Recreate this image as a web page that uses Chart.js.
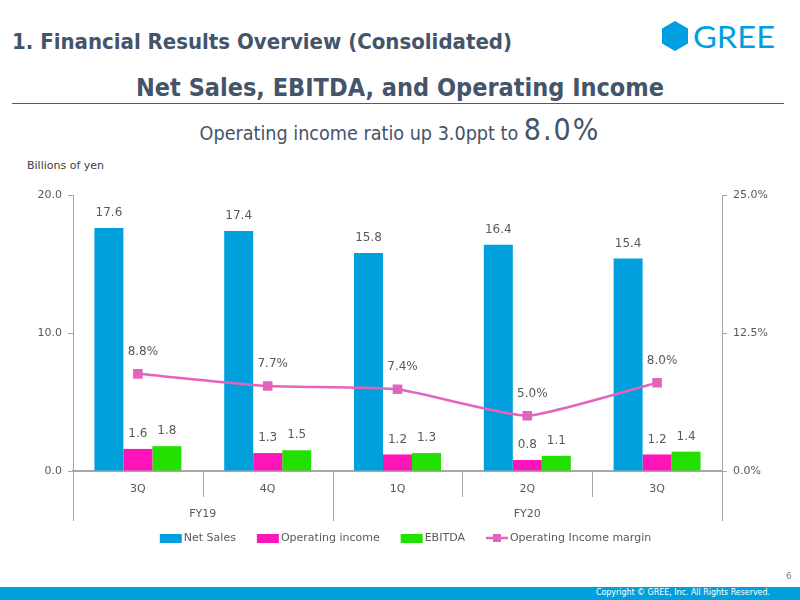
<!DOCTYPE html>
<html>
<head>
<meta charset="utf-8">
<script src="https://cdn.jsdelivr.net/npm/chart.js@4.4.1/dist/chart.umd.min.js"></script>
<style>
  body { margin: 0; width: 800px; height: 600px; position: relative; overflow: hidden; background: #fff; }
  #chart { position: absolute; left: 0; top: 0; }
  .txt { position: absolute; white-space: nowrap; color: #44546a; }
  #title { left: 12px; top: 29px; font: bold 22px "DejaVu Sans Condensed", "DejaVu Sans"; }
  #subtitle { left: 0; width: 800px; text-align: center; top: 73px; font: bold 25px "DejaVu Sans Condensed", "DejaVu Sans"; }
  #rule { position: absolute; left: 12px; width: 772px; top: 103px; height: 0; border-top: 1px solid #595959; }
  #ratio { left: 0; width: 800px; text-align: center; top: 112px; font: 19.6px "DejaVu Sans Condensed", "DejaVu Sans"; }
  #ratio span { font-size: 30px; letter-spacing: 2px; }
  #unit { left: 27px; top: 159px; font: 11px "DejaVu Sans"; color: #404040; }
  #footer { position: absolute; left: 0; top: 587px; width: 800px; height: 13px; background: #00a0dc; }
  #footer div { position: absolute; right: 30px; top: 0px; font: 8.8px "DejaVu Sans Condensed", "DejaVu Sans"; color: #fff; }
  #page { left: 786px; top: 571px; font: 9px "DejaVu Sans"; color: #7f7f7f; }
  #logo { position: absolute; left: 660px; top: 18px; }
</style>
</head>
<body>
<div class="txt" id="title">1. Financial Results Overview (Consolidated)</div>
<svg id="logo" width="120" height="36">
  <polygon points="15,3 28,10.5 28,25.5 15,33 2,25.5 2,10.5" fill="#009fdf"/>
  <text x="33" y="30" font-family="Lato, 'Open Sans'" font-size="31" fill="#009fdf" textLength="82" lengthAdjust="spacingAndGlyphs">GREE</text>
</svg>
<div class="txt" id="subtitle">Net Sales, EBITDA, and Operating Income</div>
<div id="rule"></div>
<div class="txt" id="ratio">Operating income ratio up 3.0ppt to <span>8.0%</span></div>
<div class="txt" id="unit">Billions of yen</div>
<canvas id="chart" width="800" height="600"></canvas>
<div class="txt" id="page">6</div>
<div id="footer"><div>Copyright © GREE, Inc. All Rights Reserved.</div></div>
<script>
const quarters = ['3Q', '4Q', '1Q', '2Q', '3Q'];
const fiscalYears = ['FY19', 'FY20'];
const yearSpans = [2, 3];
const netSales = [17.6, 17.4, 15.8, 16.4, 15.4];
const operatingIncome = [1.6, 1.3, 1.2, 0.8, 1.2];
const ebitda = [1.8, 1.5, 1.3, 1.1, 1.4];
const incomeMargin = [8.8, 7.7, 7.4, 5.0, 8.0];
const salesTicks = [0, 10, 20];
const marginTicks = [0, 12.5, 25];

const textColor = '#595959';
const axisColor = '#a6a6a6';

// labels, category levels and legend
const annotate = {
  id: 'annotate',
  afterDatasetsDraw(chart) {
    const ctx = chart.ctx;
    ctx.save();
    ctx.fillStyle = textColor;
    ctx.textAlign = 'center';
    ctx.textBaseline = 'middle';
    ctx.font = '12px "DejaVu Sans"';
    chart.data.datasets.forEach((ds, i) => {
      const meta = chart.getDatasetMeta(i);
      meta.data.forEach((el, j) => {
        const v = ds.data[j];
        if (ds.type === 'line') {
          ctx.fillText(v.toFixed(1) + '%', el.x + 5, el.y - 22);
        } else {
          ctx.fillText(v.toFixed(1), el.x, el.y - 15);
        }
      });
    });

    const x = chart.scales.x;
    const bottom = chart.chartArea.bottom;
    const step = x.getPixelForValue(1) - x.getPixelForValue(0);
    ctx.font = '11px "DejaVu Sans"';
    quarters.forEach((q, i) => ctx.fillText(q, x.getPixelForValue(i), bottom + 18));

    const groupEdges = [0];
    yearSpans.forEach(s => groupEdges.push(groupEdges[groupEdges.length - 1] + s));
    ctx.strokeStyle = axisColor;
    ctx.lineWidth = 1;
    for (let i = 0; i <= quarters.length; i++) {
      const px = Math.round(x.getPixelForValue(i) - step / 2) + 0.5;
      const len = groupEdges.includes(i) ? 50 : 26;
      ctx.beginPath();
      ctx.moveTo(px, bottom);
      ctx.lineTo(px, bottom + len);
      ctx.stroke();
    }
    fiscalYears.forEach((fy, g) => {
      const a = x.getPixelForValue(groupEdges[g]) - step / 2;
      const b = x.getPixelForValue(groupEdges[g + 1]) - step / 2;
      ctx.fillText(fy, (a + b) / 2, bottom + 43);
    });

    // legend
    ctx.textAlign = 'left';
    const ly = 538;
    const items = chart.data.datasets.slice().sort((a, b) => a.legendIndex - b.legendIndex);
    const widths = items.map(ds => 25 + ctx.measureText(ds.label).width);
    const gap = 20;
    let lx = 406 - (widths.reduce((a, b) => a + b, 0) + gap * (items.length - 1)) / 2;
    items.forEach((ds, k) => {
      if (ds.type === 'line') {
        ctx.strokeStyle = ds.borderColor;
        ctx.lineWidth = 2.5;
        ctx.beginPath();
        ctx.moveTo(lx, ly);
        ctx.lineTo(lx + 22, ly);
        ctx.stroke();
        ctx.fillStyle = ds.borderColor;
        ctx.fillRect(lx + 7, ly - 4, 8, 8);
      } else {
        ctx.fillStyle = ds.backgroundColor;
        ctx.fillRect(lx, ly - 4, 22, 9);
      }
      ctx.fillStyle = textColor;
      ctx.fillText(ds.label, lx + 24, ly);
      lx += widths[k] + gap;
    });
    ctx.restore();
  }
};

new Chart(document.getElementById('chart'), {
  type: 'bar',
  data: {
    labels: quarters,
    datasets: [
      { label: 'Net Sales', data: netSales, backgroundColor: '#00a0dc', yAxisID: 'y', order: 1, legendIndex: 0 },
      { label: 'Operating income', data: operatingIncome, backgroundColor: '#ff14b9', yAxisID: 'y', order: 1, legendIndex: 1 },
      { label: 'EBITDA', data: ebitda, backgroundColor: '#22e000', yAxisID: 'y', order: 1, legendIndex: 2 },
      {
        type: 'line', label: 'Operating Income margin', data: incomeMargin, yAxisID: 'y2', order: 0, legendIndex: 3,
        borderColor: '#e463bd', backgroundColor: '#e463bd', borderWidth: 2.5,
        pointStyle: 'rect', pointRadius: 5, tension: 0.15
      }
    ]
  },
  options: {
    responsive: false,
    animation: false,
    layout: { padding: { top: 195, left: 0, right: 0, bottom: 0 } },
    datasets: { bar: { categoryPercentage: 0.67, barPercentage: 1 } },
    plugins: { legend: { display: false }, tooltip: { enabled: false } },
    scales: {
      x: {
        ticks: { display: false },
        grid: { display: false },
        border: { color: axisColor, width: 2 },
        afterFit: s => { s.height = 129; }
      },
      y: {
        position: 'left',
        min: 0, max: 20,
        afterBuildTicks: s => { s.ticks = salesTicks.map(v => ({ value: v })); },
        ticks: { callback: v => v.toFixed(1), color: textColor, font: { family: 'DejaVu Sans', size: 11 }, padding: 6 },
        grid: { drawOnChartArea: false, tickLength: 5, color: axisColor },
        border: { color: axisColor },
        afterFit: s => { s.width = 73; }
      },
      y2: {
        position: 'right',
        min: 0, max: 25,
        afterBuildTicks: s => { s.ticks = marginTicks.map(v => ({ value: v })); },
        ticks: { callback: v => v.toFixed(1) + '%', color: textColor, font: { family: 'DejaVu Sans', size: 11 }, padding: 6 },
        grid: { drawOnChartArea: false, tickLength: 5, color: axisColor },
        border: { color: axisColor },
        afterFit: s => { s.width = 78; }
      }
    }
  },
  plugins: [annotate]
});
</script>
</body>
</html>
